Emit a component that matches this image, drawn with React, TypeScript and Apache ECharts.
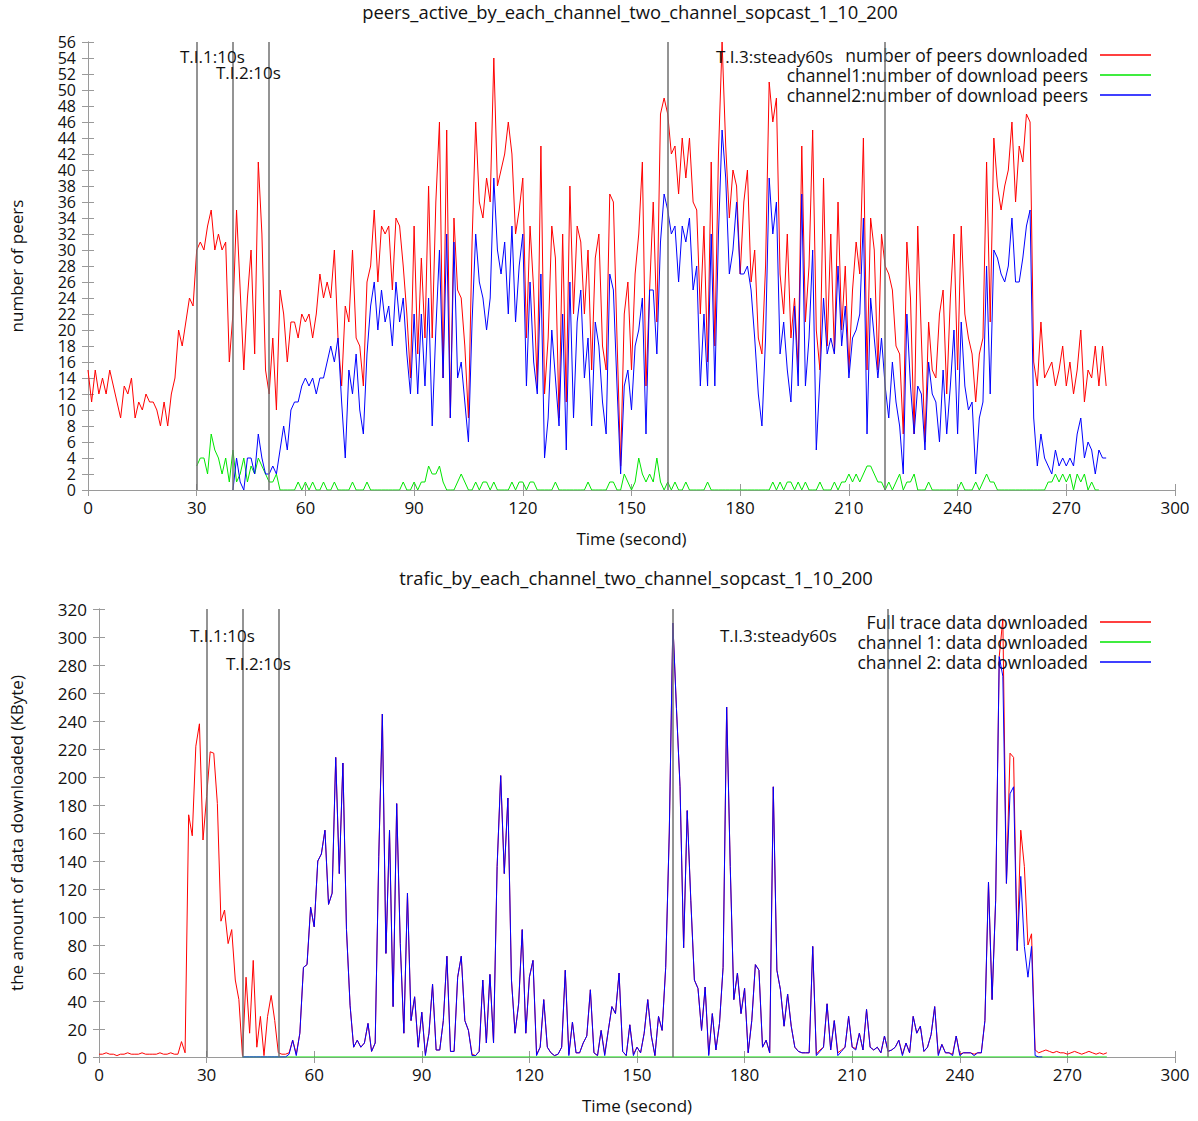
import React, { useEffect, useRef } from "react";
import * as echarts from "echarts";

// ---- data (one sample per second) ----
const sampleStep = 1;

const peersTotalStart = 0;
const peersTotal = [
  15, 11, 15, 12, 14, 12, 15, 13, 11, 9,
  13, 12, 14, 9, 11, 10, 12, 11, 11, 10,
  8, 11, 8, 12, 14, 20, 18, 21, 24, 23,
  30, 31, 30, 33, 35, 30, 32, 30, 31, 16,
  22, 35, 25, 15, 24, 30, 17, 41, 32, 15,
  12, 19, 10, 25, 22, 16, 21, 21, 19, 22,
  21, 22, 19, 22, 27, 24, 26, 24, 30, 19,
  13, 23, 21, 30, 19, 18, 13, 26, 28, 35,
  26, 33, 32, 33, 25, 34, 33, 28, 22, 14,
  33, 17, 29, 19, 38, 19, 36, 46, 14, 45,
  9, 34, 25, 24, 18, 9, 31, 46, 36, 34,
  39, 36, 54, 38, 40, 42, 46, 42, 32, 35,
  39, 19, 33, 25, 13, 43, 12, 19, 33, 29,
  9, 32, 11, 38, 22, 33, 31, 22, 30, 15,
  29, 32, 18, 15, 37, 36, 19, 3, 22, 26,
  15, 27, 32, 41, 13, 25, 36, 21, 47, 49,
  47, 42, 43, 37, 44, 39, 44, 36, 35, 22,
  33, 16, 41, 18, 42, 56, 43, 34, 40, 38,
  27, 36, 40, 26, 30, 19, 17, 28, 51, 46,
  49, 27, 22, 32, 19, 24, 15, 43, 21, 28,
  45, 20, 15, 39, 18, 32, 17, 36, 20, 28,
  15, 25, 31, 27, 44, 15, 34, 30, 15, 32,
  28, 27, 25, 18, 17, 7, 31, 24, 7, 33,
  19, 6, 21, 15, 14, 22, 25, 12, 24, 32,
  15, 33, 22, 19, 17, 11, 17, 19, 41, 21,
  44, 38, 35, 38, 40, 46, 36, 43, 41, 47,
  46, 16, 13, 21, 14, 15, 16, 13, 15, 18,
  13, 16, 12, 15, 20, 11, 15, 14, 18, 13, 18, 13,
];

const peersCh1Start = 30;
const peersCh1 = [
  3, 4, 4, 2, 7, 5, 4, 2, 4, 1,
  5, 1, 2, 4, 1, 3, 2, 4, 3, 2,
  1, 1, 2,
  0, 0, 0, 0, 0, 1, 0, 1, 0, 1, 0, 0, 1, 0, 0, 1, 0, 0, 0, 0,
  1, 0, 0, 0, 1, 0, 0, 0, 0, 0, 0, 0, 0, 0, 1, 0, 0, 1, 0, 1,
  1, 3, 2, 2, 3, 1, 0, 0, 0, 1, 2, 1, 0, 0, 1, 0, 1, 1, 0, 1,
  0, 0, 0, 0, 1, 0, 1, 1, 0, 1, 1, 0, 0, 0, 0, 0, 1, 0, 0, 0,
  0, 0, 0, 0, 0, 1, 0, 0, 0, 0,
  0, 1, 1, 0, 0, 2, 1, 0, 1, 4, 2, 1, 2, 1, 4, 1, 0, 1, 0, 1,
  0, 0, 1, 0, 0, 0, 0, 0, 1, 0, 0, 0, 0, 0, 0, 0, 0, 0, 0, 0,
  0, 0, 0, 0, 0, 0, 1, 0, 1, 0, 1, 1, 0, 1, 0, 1, 0, 0, 0, 1,
  0, 0, 0, 1, 0, 1, 1, 2, 1, 2, 1, 2, 3, 3, 2, 1, 1, 0, 1, 0,
  1, 2, 0, 1, 1, 2, 0, 0, 0, 1, 0, 0, 0, 0, 0, 0, 0, 0, 1, 0,
  0, 0, 1, 0, 1, 2, 1, 1, 0, 0, 0, 0, 0, 0, 0, 0, 0, 0, 0, 0,
  0, 0, 1, 1, 2, 1, 2, 1, 2, 0, 2, 1, 2, 0, 1, 0, 0,
];

const peersCh2Start = 40;
const peersCh2 = [
  0, 4, 1, 0, 4, 4, 2, 7, 4, 2,
  2, 3, 2, 5, 8, 5, 10, 11, 11, 13,
  14, 13, 14, 12, 14, 14, 16, 18, 16, 19,
  11, 4, 15, 12, 17, 10, 7, 17, 23, 26,
  20, 25, 21, 23, 18, 26, 21, 24, 17, 12,
  22, 12, 22, 13, 24, 8, 20, 30, 14, 32,
  9, 31, 14, 16, 11, 6, 21, 32, 26, 24,
  20, 24, 39, 30, 27, 31, 22, 33, 21, 28,
  32, 13, 26, 16, 12, 27, 4, 9, 20, 14,
  8, 22, 5, 26, 9, 21, 25, 14, 19, 8,
  21, 18, 11, 7, 27, 25, 13, 2, 13, 15,
  10, 18, 20, 24, 7, 25, 25, 17, 31, 37,
  35, 32, 33, 26, 33, 31, 34, 25, 28, 13,
  22, 13, 32, 13, 32, 45, 39, 27, 30, 36,
  27, 27, 28, 25, 19, 12, 8, 19, 39, 32,
  36, 17, 21, 15, 11, 23, 13, 37, 13, 19,
  30, 5, 14, 24, 17, 19, 17, 28, 18, 23,
  14, 19, 20, 22, 34, 7, 24, 19, 14, 19,
  13, 9, 16, 11, 8, 2, 22, 13, 7, 13,
  12, 5, 16, 12, 11, 6, 15, 7, 13, 20,
  7, 21, 13, 10, 11, 2, 9, 11, 28, 12,
  30, 29, 27, 26, 28, 34, 26, 26, 29, 33,
  35, 9, 3, 7, 4, 3, 2, 5, 3, 4,
  3, 4, 3, 7, 9, 4, 6, 5, 2, 5, 4, 4,
];

const trafficFullStart = 0;
const trafficFull = [
  2, 2, 3, 2, 2, 1, 2, 2, 3, 2,
  2, 2, 3, 2, 2, 2, 2, 3, 2, 2,
  3, 2, 2, 11, 3, 173, 158, 222, 238, 155,
  186, 218, 217, 181, 97, 105, 81, 91, 55, 41,
  1, 57, 17, 69, 7, 29, 1, 29, 44, 26,
  3, 2, 2, 3, 12, 2, 17, 64, 66, 107,
  93, 140, 145, 162, 109, 117, 214, 131, 210, 91,
  37, 7, 12, 7, 10, 24, 4, 10, 143, 245,
  74, 162, 36, 181, 81, 17, 117, 26, 43, 7,
  32, 2, 17, 52, 5, 5, 26, 72, 4, 4,
  57, 72, 26, 19, 2, 1, 4, 55, 10, 59,
  10, 136, 201, 131, 185, 55, 17, 38, 91, 17,
  57, 69, 2, 7, 41, 7, 3, 1, 2, 7,
  62, 2, 25, 3, 3, 10, 15, 48, 3, 1,
  19, 2, 19, 36, 31, 60, 4, 1, 23, 2,
  7, 3, 17, 41, 15, 1, 29, 19, 64, 160,
  310, 249, 193, 78, 176, 112, 55, 49, 19, 50,
  2, 31, 5, 24, 64, 250, 136, 41, 60, 31,
  49, 3, 26, 66, 62, 7, 12, 3, 193, 62,
  48, 22, 45, 22, 7, 4, 3, 3, 3, 79,
  2, 5, 7, 38, 5, 26, 3, 5, 7, 29,
  7, 6, 17, 5, 34, 7, 5, 7, 3, 15,
  4, 5, 7, 12, 2, 10, 3, 29, 17, 22,
  4, 7, 16, 36, 2, 9, 3, 3, 2, 15,
  2, 3, 3, 3, 2, 3, 3, 26, 125, 41,
  112, 286, 313, 124, 217, 214, 76, 162, 136, 80,
  88, 5, 3, 4, 5, 4, 3, 4, 3, 3,
  2, 3, 4, 3, 2, 3, 4, 3, 2, 3, 2, 3,
];

const trafficCh1Times = [40, 281];
const trafficCh1 = [0, 0];

const trafficCh2Start = 40;
const trafficCh2 = [
  0, 0, 0, 0, 0, 0, 0, 0, 0, 0,
  0, 0, 0, 2, 12, 1, 17, 64, 66, 107,
  93, 140, 145, 162, 109, 117, 214, 131, 210, 91,
  37, 7, 12, 7, 10, 24, 4, 10, 143, 245,
  74, 162, 36, 181, 81, 17, 117, 26, 43, 7,
  32, 1, 17, 52, 5, 5, 26, 72, 4, 4,
  57, 72, 26, 19, 1, 1, 4, 55, 10, 59,
  10, 136, 201, 131, 185, 55, 17, 38, 91, 17,
  57, 69, 1, 7, 41, 7, 3, 1, 2, 7,
  62, 1, 25, 3, 3, 10, 15, 48, 3, 1,
  19, 1, 19, 36, 31, 60, 4, 1, 23, 1,
  7, 3, 17, 41, 15, 1, 29, 19, 64, 160,
  310, 249, 193, 78, 176, 112, 55, 49, 19, 50,
  1, 31, 5, 24, 64, 250, 136, 41, 60, 31,
  49, 3, 26, 66, 62, 7, 12, 3, 193, 62,
  48, 22, 45, 22, 7, 4, 3, 3, 3, 79,
  1, 4, 7, 38, 5, 26, 1, 4, 7, 29,
  7, 5, 17, 5, 34, 7, 5, 7, 3, 15,
  4, 5, 7, 12, 1, 10, 3, 29, 17, 22,
  4, 7, 16, 36, 1, 9, 3, 3, 1, 15,
  1, 3, 3, 3, 1, 3, 3, 26, 125, 41,
  112, 286, 272, 124, 188, 193, 76, 129, 79, 57,
  79, 1, 0, 0,
];

// phase boundaries (seconds) and their annotations
const phaseMarks = [30, 40, 50, 160, 220];
const peersTitle = "peers_active_by_each_channel_two_channel_sopcast_1_10_200";
const trafficTitle = "trafic_by_each_channel_two_channel_sopcast_1_10_200";
const peersNames = [
  "number of peers downloaded",
  "channel1:number of download peers",
  "channel2:number of download peers",
];
const trafficNames = [
  "Full trace data downloaded",
  "channel 1: data downloaded",
  "channel 2: data downloaded",
];

const FONT = "Open Sans";
const INK = "#111";
const RED = "#ff0000";
const GREEN = "#00e600";
const BLUE = "#0000ff";
const FRAME = "#9a9a9a";

function pairs(start: number, vals: number[]) {
  return vals.map((v, i) => [start + i * sampleStep, v]);
}
function timed(times: number[], vals: number[]) {
  return vals.map((v, i) => [times[i], v]);
}

function xAxisPair(grid: number) {
  const common = {
    type: "value",
    gridIndex: grid,
    min: 0,
    max: 300,
    interval: 30,
    splitLine: { show: false },
    axisLine: { show: true, lineStyle: { color: FRAME, width: 1 } },
    axisTick: { show: true, inside: true, length: 6, lineStyle: { color: FRAME } },
  };
  return [
    {
      ...common,
      position: "bottom",
      name: "Time (second)",
      nameLocation: "middle",
      nameGap: 40,
      nameTextStyle: { fontFamily: FONT, fontSize: 17, color: INK },
      axisLabel: {
        fontFamily: FONT,
        fontSize: 17,
        color: INK,
        margin: 9,
        lineHeight: 16,
        showMinLabel: true,
        showMaxLabel: true,
        hideOverlap: false,
      },
    },
    { ...common, position: "top", axisLabel: { show: false } },
  ];
}

function yAxisPair(grid: number, max: number, interval: number, name: string, gap: number, size: number) {
  const common = {
    type: "value",
    gridIndex: grid,
    min: 0,
    max,
    interval,
    splitLine: { show: false },
    axisLine: { show: true, lineStyle: { color: FRAME, width: 1 } },
    axisTick: { show: true, inside: true, length: 6, lineStyle: { color: FRAME } },
  };
  return [
    {
      ...common,
      position: "left",
      name,
      nameLocation: "middle",
      nameGap: gap,
      nameRotate: 90,
      nameTextStyle: { fontFamily: FONT, fontSize: 17, color: INK },
      axisLabel: {
        fontFamily: FONT,
        fontSize: size,
        color: INK,
        margin: 12,
        lineHeight: 14,
        showMinLabel: true,
        showMaxLabel: true,
        hideOverlap: false,
      },
    },
    { ...common, position: "right", axisLabel: { show: false } },
  ];
}

function lineSeries(name: string, color: string, data: number[][], xi: number, yi: number, z: number) {
  return {
    type: "line",
    name,
    data,
    xAxisIndex: xi,
    yAxisIndex: yi,
    showSymbol: false,
    symbol: "none",
    lineStyle: { color, width: 1 },
    itemStyle: { color },
    z,
  };
}

function phaseLines() {
  return {
    silent: true,
    symbol: "none",
    label: { show: false },
    lineStyle: { color: "#707070", width: 1.5, type: "solid" },
    data: phaseMarks.map((x) => ({ xAxis: x })),
  };
}

function label(text: string, left: number, top: number) {
  return {
    type: "text",
    left,
    top,
    silent: true,
    z: 50,
    style: { text, fontFamily: FONT, fontSize: 17, fill: INK },
  };
}

export default function App() {
  const ref = useRef<HTMLDivElement>(null);
  useEffect(() => {
    if (!ref.current) return;
    const chart = echarts.init(ref.current, null, { renderer: "svg" });
    const topGrid = { left: 87, top: 42, width: 1088, height: 448 };
    const botGrid = { left: 98, top: 609, width: 1077, height: 448 };

    const peersRed = lineSeries(peersNames[0], RED, pairs(peersTotalStart, peersTotal), 0, 0, 2);
    (peersRed as any).markLine = phaseLines();
    const trafficRed = lineSeries(trafficNames[0], RED, pairs(trafficFullStart, trafficFull), 2, 2, 2);
    (trafficRed as any).markLine = phaseLines();

    const legendCommon = {
      orient: "vertical",
      align: "right",
      icon: "rect",
      padding: 0,
      itemWidth: 51,
      itemHeight: 1.5,
      itemGap: 2,
      textStyle: { fontFamily: FONT, fontSize: 17.5, color: INK, lineHeight: 16, padding: [0, 7, 0, 0] },
    };

    chart.setOption({
      animation: false,
      backgroundColor: "#ffffff",
      title: [
        {
          text: peersTitle,
          left: 630,
          top: 2,
          padding: 0,
          textAlign: "center",
          textStyle: { fontFamily: FONT, fontSize: 18.4, fontWeight: "normal", color: INK },
        },
        {
          text: trafficTitle,
          left: 636,
          top: 568,
          padding: 0,
          textAlign: "center",
          textStyle: { fontFamily: FONT, fontSize: 18.4, fontWeight: "normal", color: INK },
        },
      ],
      legend: [
        { ...legendCommon, right: 47, top: 46, data: peersNames },
        { ...legendCommon, right: 47, top: 613, data: trafficNames },
      ],
      grid: [
        { ...topGrid, show: false },
        { ...botGrid, show: false },
      ],
      xAxis: [...xAxisPair(0), ...xAxisPair(1)],
      yAxis: [
        ...yAxisPair(0, 56, 2, "number of peers", 63, 16),
        ...yAxisPair(1, 320, 20, "the amount of data downloaded (KByte)", 74, 17),
      ],
      series: [
        peersRed,
        lineSeries(peersNames[1], GREEN, pairs(peersCh1Start, peersCh1), 0, 0, 3),
        lineSeries(peersNames[2], BLUE, pairs(peersCh2Start, peersCh2), 0, 0, 4),
        trafficRed,
        lineSeries(trafficNames[1], GREEN, timed(trafficCh1Times, trafficCh1), 2, 2, 3),
        lineSeries(trafficNames[2], BLUE, pairs(trafficCh2Start, trafficCh2), 2, 2, 4),
      ],
      graphic: [
        label("T.I.1:10s", 180, 48),
        label("T.I.2:10s", 216, 64),
        label("T.I.3:steady60s", 716, 48),
        label("T.I.1:10s", 190, 627),
        label("T.I.2:10s", 226, 655),
        label("T.I.3:steady60s", 720, 627),
      ],
    });
    return () => chart.dispose();
  }, []);
  return (
    <div
      ref={ref}
      style={{ position: "absolute", left: 0, top: 0, width: 1198, height: 1121, background: "#fff" }}
    />
  );
}
